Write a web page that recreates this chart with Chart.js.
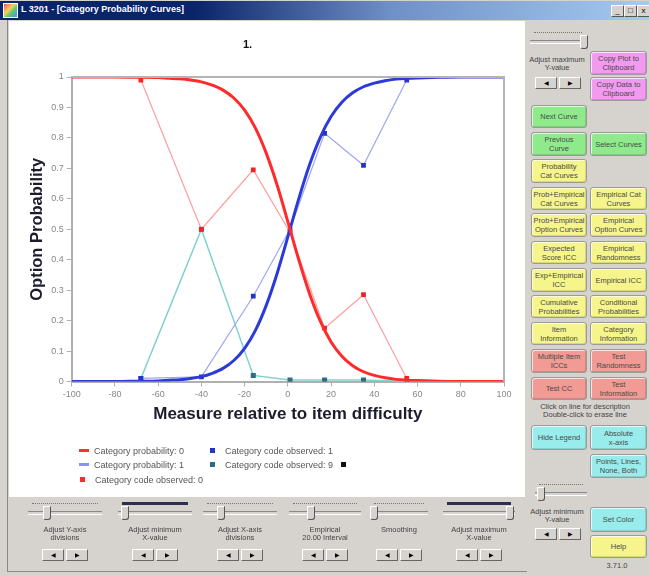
<!DOCTYPE html>
<html>
<head>
<meta charset="utf-8">
<script src="https://cdn.jsdelivr.net/npm/chart.js@4.4.1/dist/chart.umd.min.js"></script>
<style>
body { margin:0; width:649px; height:575px; background:#d6d3ce; font-family:Arial,"Liberation Sans",sans-serif; position:relative; overflow:hidden; }
.abs { position:absolute; }
#titlebar { left:0; top:1px; width:649px; height:19px; background:linear-gradient(to right,#0a246a 0,#0a246a 30%,#6f8fc8 60%,#a6caf0 100%); }
#titletext { left:21px; top:4px; color:#fff; font-size:9px; font-weight:bold; }
#icon { left:3px; top:3px; width:13px; height:13px; background:linear-gradient(135deg,#e55 0,#fc6 40%,#6c6 60%,#58f 100%); border:1px solid #fff; }
.winbtn { top:5px; width:11px; height:10px; background:#d6d3ce; border:1px solid #fff; border-right-color:#555; border-bottom-color:#555; font-size:8px; line-height:9px; text-align:center; }
#panel { left:9px; top:21px; width:516px; height:476px; background:#fff; }
#frameL { left:7px; top:20px; width:1px; height:552px; background:#888; }
#frameB { left:7px; top:571px; width:520px; height:1px; background:#888; }
#charttitle { left:243px; top:38px; font-size:11px; font-weight:bold; color:#111; }
.leg { font-size:9px; color:#555; white-space:nowrap; }
.legline { height:3px; width:10px; }
.legdot { width:5px; height:5px; }
.btn { box-sizing:border-box; padding:0 3px; border:1px solid #9a9a9a; border-radius:3px; box-shadow:inset -1px -1px 0 rgba(0,0,0,0.12),inset 1px 1px 0 rgba(255,255,255,0.7); display:flex; align-items:center; justify-content:center; text-align:center; font-size:7.5px; line-height:9px; color:#4a4a4a; }
.lbl { font-size:7.5px; line-height:8px; color:#444; text-align:center; }
.arrows { height:12px; width:46px; display:flex; gap:2px; }
.arrows span { flex:1; background:#d6d3ce; border:1px solid #fff; border-right-color:#666; border-bottom-color:#666; font-size:6px; line-height:10px; text-align:center; color:#000; }
.groove { height:2px; border-top:1px solid #888; border-bottom:1px solid #fff; }
.tickrow { height:2px; border-top:1px dotted #777; }
.thumb { width:6px; height:12px; background:#d6d3ce; border:1px solid #fff; border-right-color:#555; border-bottom-color:#555; border-radius:0 0 3px 3px; }
</style>
</head>
<body>
<div id="titlebar" class="abs"></div>
<div id="icon" class="abs"></div>
<div id="titletext" class="abs">L 3201 - [Category Probability Curves]</div>
<div class="abs winbtn" style="left:611px">_</div>
<div class="abs winbtn" style="left:624px">&#9633;</div>
<div class="abs winbtn" style="left:637px">x</div>
<div id="frameL" class="abs"></div>
<div id="frameB" class="abs"></div>
<div id="panel" class="abs"><canvas id="chart" width="516" height="476"></canvas></div>
<div id="charttitle" class="abs">1.</div>
<div id="legend"></div>
<div id="ui"></div>
<script>
// curve values
var curveX = [-100, -90, -80, -70, -60, -55, -50, -45, -40, -35, -30, -25, -20, -15, -10, -5, 0, 5, 10, 15, 20, 25, 30, 35, 40, 45, 50, 55, 60, 70, 80, 90, 100];
var prob0 = [1, 1, 1, 0.999, 0.998, 0.996, 0.994, 0.99, 0.984, 0.973, 0.957, 0.931, 0.891, 0.832, 0.75, 0.646, 0.525, 0.401, 0.289, 0.198, 0.13, 0.083, 0.052, 0.032, 0.02, 0.012, 0.007, 0.0045, 0.003, 0.001, 0, 0, 0];
var prob1 = [0, 0, 0, 0.001, 0.002, 0.004, 0.006, 0.01, 0.016, 0.027, 0.043, 0.069, 0.109, 0.168, 0.25, 0.354, 0.475, 0.599, 0.711, 0.802, 0.87, 0.917, 0.948, 0.968, 0.98, 0.988, 0.993, 0.9955, 0.997, 0.999, 1, 1, 1];
// observed points
var obsX = [-68, -40, -16, 1, 17, 35, 55];
var obs0 = [0.99, 0.5, 0.695, 0.49, 0.175, 0.285, 0.01];
var obs1 = [0.01, 0.015, 0.28, 0.5, 0.815, 0.71, 0.99];
var obs9 = [0.01, 0.5, 0.02, 0.005, 0.005, 0.005, 0];
var xTicks = { min: -100, max: 100, step: 20 };
var yTicks = { min: 0, max: 1, step: 0.1 };

function pts(xs, ys) {
  return xs.map(function (x, i) { return { x: x, y: ys[i] }; });
}

var boxPlugin = {
  id: 'box',
  afterDraw: function (c) {
    var a = c.chartArea, g = c.ctx;
    g.save();
    g.strokeStyle = '#b4b4b4';
    g.lineWidth = 2;
    g.beginPath();
    g.moveTo(a.left, a.top); g.lineTo(a.right, a.top); g.lineTo(a.right, a.bottom);
    g.stroke();
    g.restore();
  }
};

var axisColor = '#b0b0b0';
var tickFont = { family: 'Arial', size: 9 };

new Chart(document.getElementById('chart').getContext('2d'), {
  type: 'scatter',
  data: {
    datasets: [
      { label: 'Category probability: 0', data: pts(curveX, prob0), showLine: true, borderColor: '#ff2b2b', borderWidth: 3, pointRadius: 0, cubicInterpolationMode: 'monotone' },
      { label: 'Category probability: 1', data: pts(curveX, prob1), showLine: true, borderColor: '#2b3ad8', borderWidth: 3, pointRadius: 0, cubicInterpolationMode: 'monotone' },
      { label: 'Category code observed: 0', data: pts(obsX, obs0), showLine: true, borderColor: '#ff9e9e', borderWidth: 1.2, pointStyle: 'rect', pointRadius: 2.5, pointBackgroundColor: '#f02424', pointBorderColor: '#f02424' },
      { label: 'Category code observed: 1', data: pts(obsX, obs1), showLine: true, borderColor: '#a0a6f2', borderWidth: 1.2, pointStyle: 'rect', pointRadius: 2.5, pointBackgroundColor: '#2633c8', pointBorderColor: '#2633c8' },
      { label: 'Category code observed: 9', data: pts(obsX, obs9), showLine: true, borderColor: '#7fcfcf', borderWidth: 1.5, pointStyle: 'rect', pointRadius: 2.5, pointBackgroundColor: '#2e6c80', pointBorderColor: '#2e6c80' }
    ]
  },
  options: {
    responsive: false,
    animation: false,
    layout: { padding: { left: 15, top: 56, right: 21, bottom: 68 } },
    plugins: { legend: { display: false }, tooltip: { enabled: false } },
    scales: {
      x: {
        type: 'linear', min: xTicks.min, max: xTicks.max,
        ticks: { stepSize: xTicks.step, color: '#888', font: tickFont, padding: 3 },
        grid: { drawOnChartArea: false, color: axisColor, tickLength: 5 },
        border: { color: axisColor, width: 2 },
        title: { display: true, text: 'Measure relative to item difficulty', color: '#1c1c2c', font: { family: 'Arial', size: 17, weight: 'bold' }, padding: 4 },
        afterFit: function (s) { s.height = 47.5; }
      },
      y: {
        min: yTicks.min, max: yTicks.max,
        ticks: {
          stepSize: yTicks.step, color: '#888', font: tickFont, padding: 3,
          callback: function (v) { return String(Math.round(v * 10) / 10); }
        },
        grid: { drawOnChartArea: false, color: axisColor, tickLength: 5 },
        border: { color: axisColor, width: 2 },
        title: { display: true, text: 'Option Probability', color: '#1c1c2c', font: { family: 'Arial', size: 16.5, weight: 'bold' }, padding: 4 },
        afterFit: function (s) { s.width = 47.7; }
      }
    }
  },
  plugins: [boxPlugin]
});

// legend, laid out in two columns like the original
var legendItems = [
  { text: 'Category probability: 0', kind: 'line', color: '#ff3030', x: 79, y: 446 },
  { text: 'Category probability: 1', kind: 'line', color: '#8a92f0', x: 79, y: 460 },
  { text: 'Category code observed: 0', kind: 'dot', color: '#f03030', x: 80, y: 475 },
  { text: 'Category code observed: 1', kind: 'dot', color: '#2633c8', x: 210, y: 446 },
  { text: 'Category code observed: 9', kind: 'dot', color: '#2e6c80', x: 210, y: 460 }
];
var lg = document.getElementById('legend');
legendItems.forEach(function (it) {
  var m = document.createElement('div');
  m.className = 'abs ' + (it.kind === 'line' ? 'legline' : 'legdot');
  m.style.left = it.x + 'px';
  m.style.top = (it.y + (it.kind === 'line' ? 3 : 2)) + 'px';
  m.style.background = it.color;
  lg.appendChild(m);
  var t = document.createElement('div');
  t.className = 'abs leg';
  t.style.left = (it.x + 15) + 'px';
  t.style.top = it.y + 'px';
  t.textContent = it.text;
  lg.appendChild(t);
});
var bd = document.createElement('div');
bd.className = 'abs legdot';
bd.style.cssText = 'left:341px;top:462px;background:#111;';
lg.appendChild(bd);

// window controls round the chart
var ui = document.getElementById('ui');
var colA = 531, colB = 590;
var buttons = [
  ['Copy Plot to Clipboard', colB, 51, 75, '#f29af0'],
  ['Copy Data to Clipboard', colB, 77, 101, '#f29af0'],
  ['Next Curve', colA, 105, 128, '#8fea8c'],
  ['Previous Curve', colA, 132, 156, '#8fea8c'],
  ['Select Curves', colB, 132, 156, '#8fea8c'],
  ['Probability Cat Curves', colA, 159, 183, '#f5f58c'],
  ['Prob+Empirical Cat Curves', colA, 187, 210, '#f5f58c'],
  ['Empirical Cat Curves', colB, 187, 210, '#f5f58c'],
  ['Prob+Empirical Option Curves', colA, 213, 237, '#f5f58c'],
  ['Empirical Option Curves', colB, 213, 237, '#f5f58c'],
  ['Expected Score ICC', colA, 241, 264, '#f5f58c'],
  ['Empirical Randomness', colB, 241, 264, '#f5f58c'],
  ['Exp+Empirical ICC', colA, 268, 292, '#f5f58c'],
  ['Empirical ICC', colB, 268, 292, '#f5f58c'],
  ['Cumulative Probabilities', colA, 295, 318, '#f5f58c'],
  ['Conditional Probabilities', colB, 295, 318, '#f5f58c'],
  ['Item Information', colA, 322, 345, '#f5f58c'],
  ['Category Information', colB, 322, 345, '#f5f58c'],
  ['Multiple Item ICCs', colA, 349, 373, '#f29a94'],
  ['Test Randomness', colB, 349, 373, '#f29a94'],
  ['Test CC', colA, 377, 400, '#f29a94'],
  ['Test Information', colB, 377, 400, '#f29a94'],
  ['Hide Legend', colA, 425, 450, '#98ecec'],
  ['Absolute x\u2011axis', colB, 425, 450, '#98ecec'],
  ['Points, Lines, None, Both', colB, 454, 478, '#98ecec'],
  ['Set Color', colB, 507, 532, '#98ecec'],
  ['Help', colB, 535, 558, '#f5f58c']
];
buttons.forEach(function (b) {
  var d = document.createElement('div');
  d.className = 'abs btn';
  d.style.cssText = 'left:' + b[1] + 'px;top:' + b[2] + 'px;width:' + (b[1] === colA ? 56 : 57) + 'px;height:' + (b[3] - b[2]) + 'px;background:' + b[4] + ';' + (b[0].indexOf('Prob+') === 0 ? 'padding:0 1px;' : '');
  d.textContent = b[0];
  ui.appendChild(d);
});

function label(text, cx, y, w) {
  var d = document.createElement('div');
  d.className = 'abs lbl';
  d.style.cssText = 'left:' + (cx - w / 2) + 'px;top:' + y + 'px;width:' + w + 'px;';
  d.innerHTML = text;
  ui.appendChild(d);
}
function arrows(cx, y) {
  var d = document.createElement('div');
  d.className = 'abs arrows';
  d.style.cssText = 'left:' + (cx - 23) + 'px;top:' + y + 'px;';
  d.innerHTML = '<span>&#9664;</span><span>&#9654;</span>';
  ui.appendChild(d);
}
function slider(x, w, y, thumbX, dark) {
  var t = document.createElement('div');
  t.className = 'abs tickrow';
  t.style.cssText = 'left:' + (x + 4) + 'px;top:' + y + 'px;width:' + (w - 8) + 'px;' + (dark ? 'border-top:3px solid #2a3050;top:' + (y - 1) + 'px;' : '');
  ui.appendChild(t);
  var g = document.createElement('div');
  g.className = 'abs groove';
  g.style.cssText = 'left:' + x + 'px;top:' + (y + 8) + 'px;width:' + w + 'px;';
  ui.appendChild(g);
  var th = document.createElement('div');
  th.className = 'abs thumb';
  th.style.cssText = 'left:' + thumbX + 'px;top:' + (y + 3) + 'px;';
  ui.appendChild(th);
}

// right column sliders
slider(530, 56, 32, 580, false);
label('Adjust maximum<br>Y-value', 557, 56, 64);
arrows(558, 77);
label('Click on line for description<br>Double-click to erase line', 585, 403, 120);
slider(535, 52, 484, 537, false);
label('Adjust minimum<br>Y-value', 557, 508, 64);
arrows(558, 528);
label('3.71.0', 617, 562, 30);

// bottom row sliders
var bottom = [
  ['Adjust Y-axis<br>divisions', 28, 74, 43, false],
  ['Adjust minimum<br>X-value', 118, 74, 121, true],
  ['Adjust X-axis<br>divisions', 203, 74, 217, false],
  ['Empirical<br>20.00 Interval', 289, 72, 307, false],
  ['Smoothing', 370, 58, 370, false],
  ['Adjust maximum<br>X-value', 443, 72, 506, true]
];
bottom.forEach(function (s) {
  slider(s[1], s[2], 503, s[3], s[4]);
  var cx = s[1] + s[2] / 2;
  label(s[0], cx, 526, 80);
  arrows(cx, 549);
});
</script>
</body>
</html>
